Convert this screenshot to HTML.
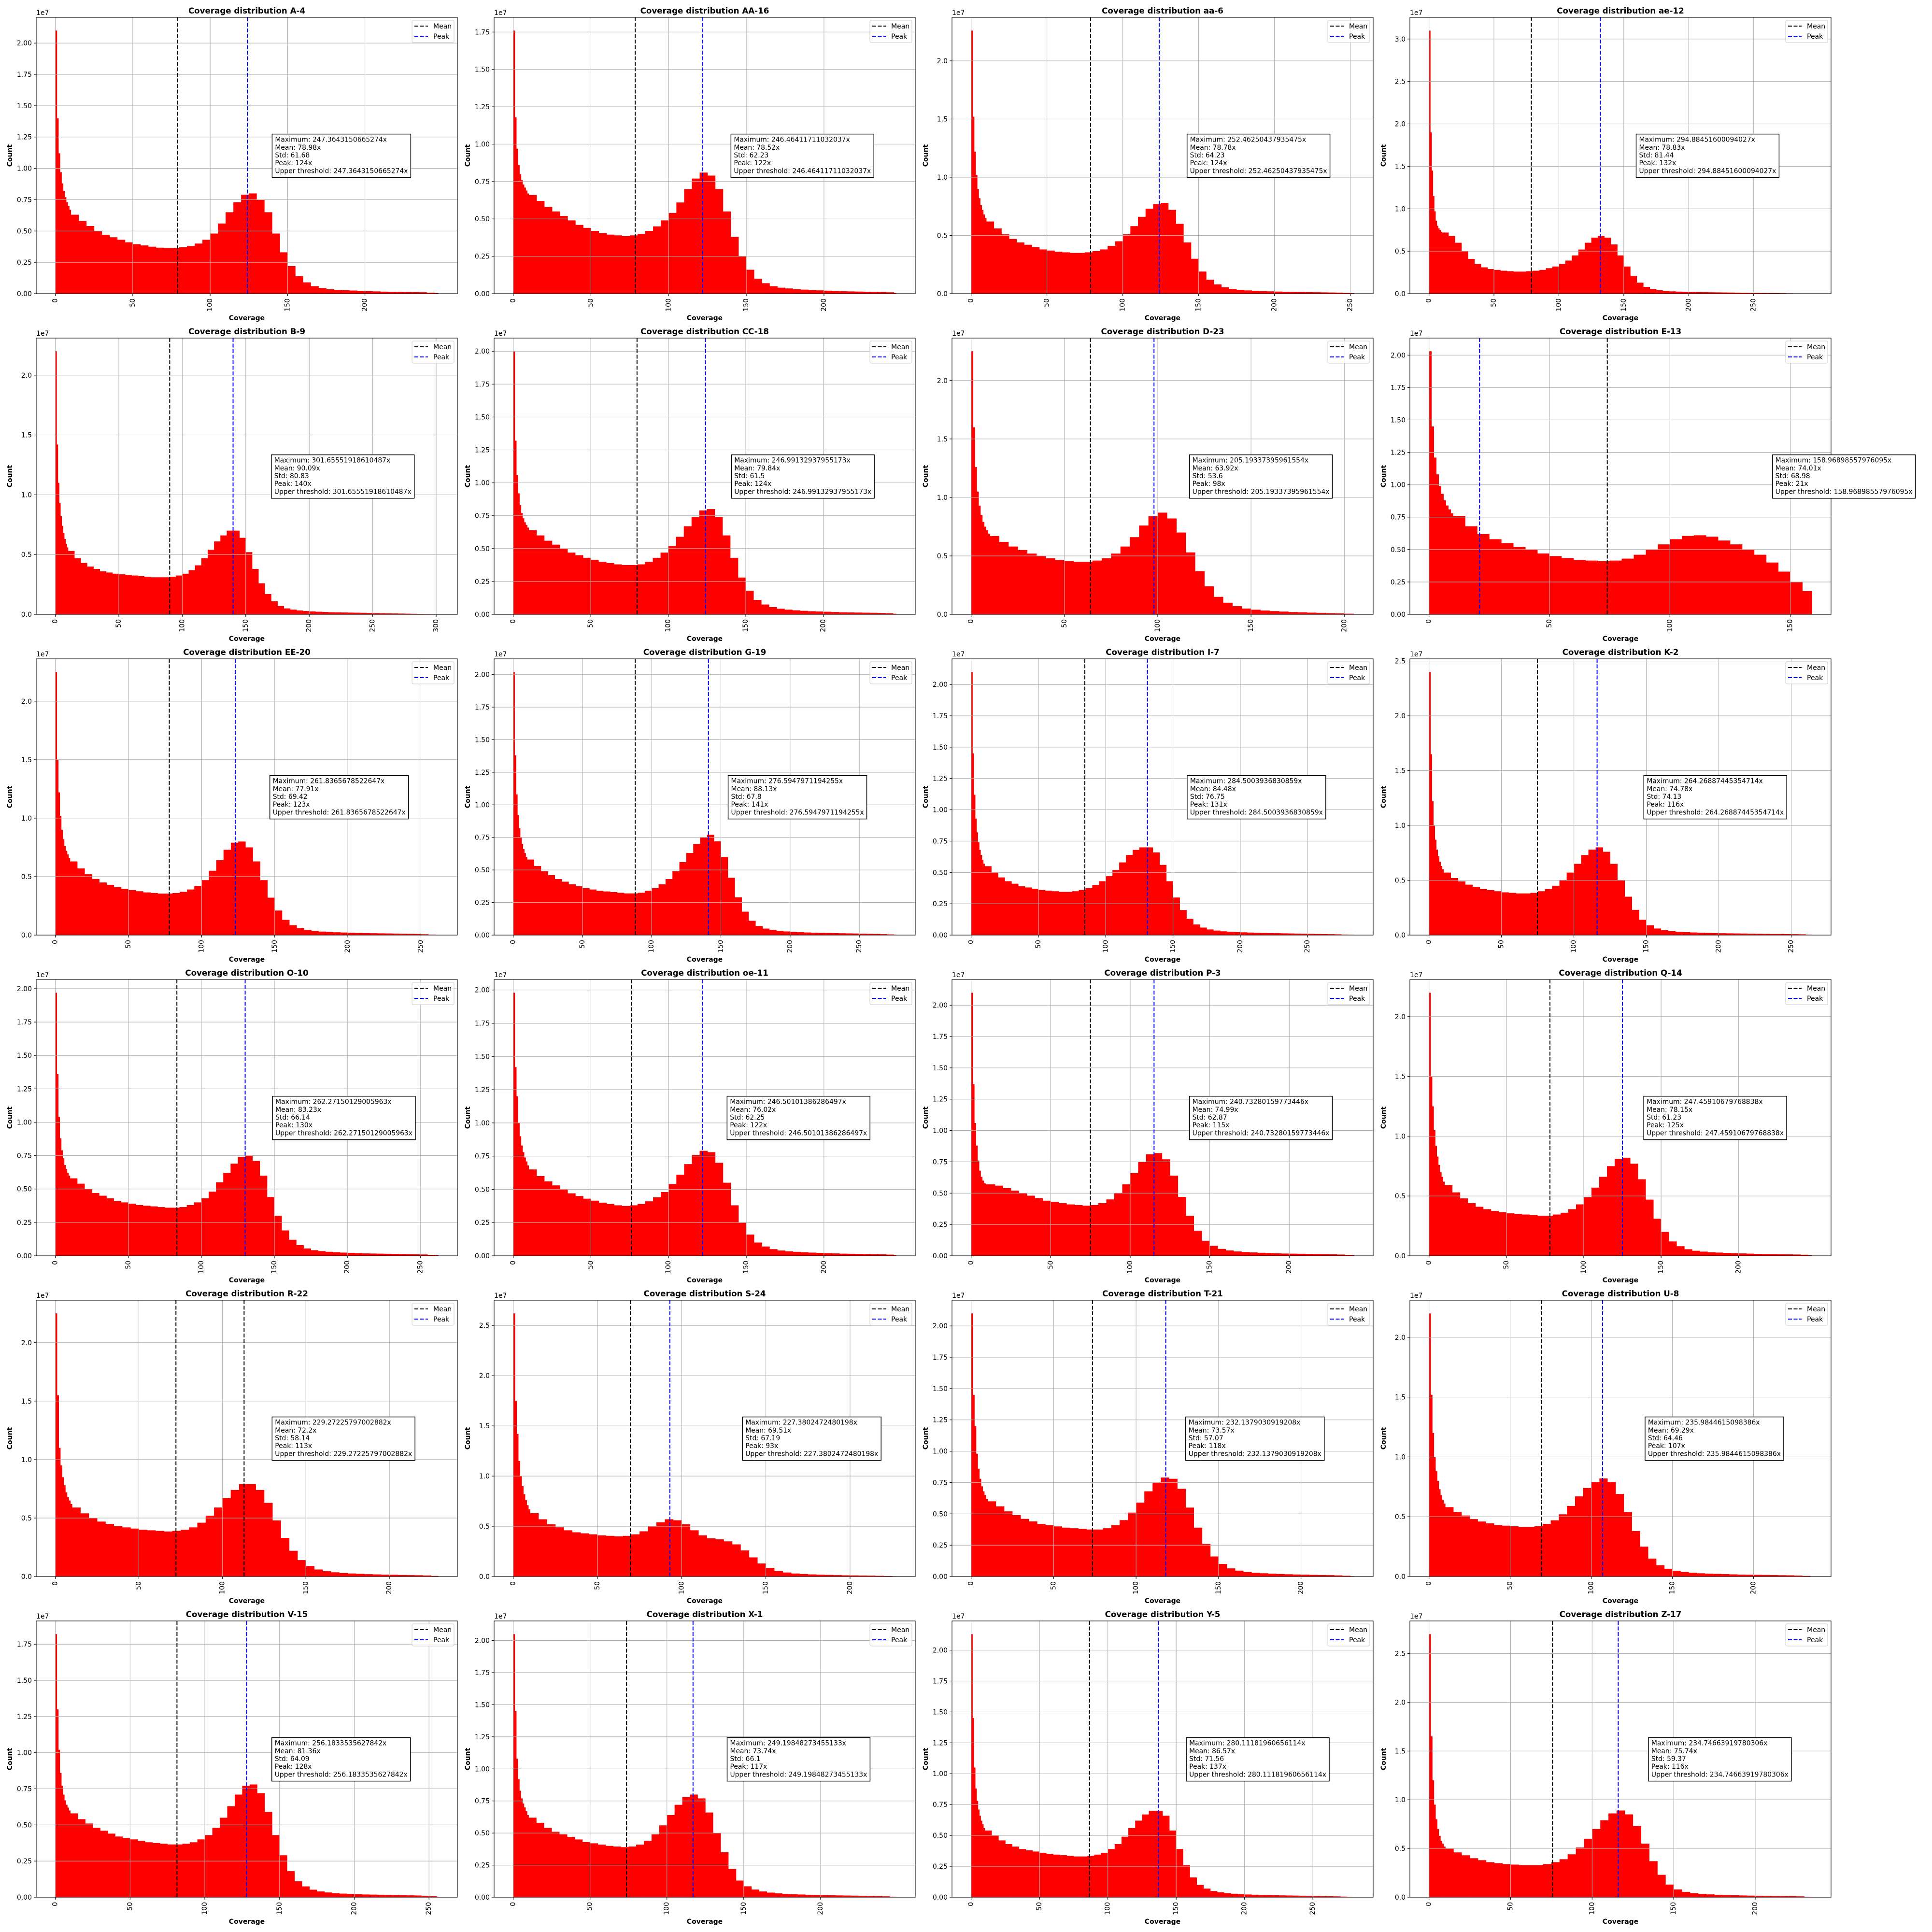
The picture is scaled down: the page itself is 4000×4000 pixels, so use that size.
<!DOCTYPE html>
<html><head><meta charset="utf-8"><title>Coverage distributions</title>
<style>html,body{margin:0;padding:0;background:#fff}svg{display:block}text{font-family:"DejaVu Sans","Liberation Sans",sans-serif}</style>
</head><body>
<svg id="fig" xmlns="http://www.w3.org/2000/svg" width="4000" height="4000" viewBox="0 0 4000 4000">
<rect x="0" y="0" width="4000" height="4000" fill="#fff"/>
</svg>
<script>
const plotNames=["A-4","AA-16","aa-6","ae-12","B-9","CC-18","D-23","E-13","EE-20","G-19","I-7","K-2","O-10","oe-11","P-3","Q-14","R-22","S-24","T-21","U-8","V-15","X-1","Y-5","Z-17"];
const maxLabels=["247.3643150665274","246.46411711032037","252.46250437935475","294.88451600094027","301.65551918610487","246.99132937955173","205.19337395961554","158.96898557976095","261.8365678522647","276.5947971194255","284.5003936830859","264.26887445354714","262.27150129005963","246.50101386286497","240.73280159773446","247.45910679768838","229.27225797002882","227.3802472480198","232.1379030919208","235.9844615098386","256.1833535627842","249.19848273455133","280.11181960656114","234.74663919780306"];
const meanCov=[78.98,78.52,78.78,78.83,90.09,79.84,63.92,74.01,77.91,88.13,84.48,74.78,83.23,76.02,74.99,78.15,72.2,69.51,73.57,69.29,81.36,73.74,86.57,75.74];
const stdCov=[61.68,62.23,64.23,81.44,80.83,61.5,53.6,68.98,69.42,67.8,76.75,74.13,66.14,62.25,62.87,61.23,58.14,67.19,57.07,64.46,64.09,66.1,71.56,59.37];
const peakCov=[124,122,124,132,140,124,98,21,123,141,131,116,130,122,115,125,113,93,118,107,128,117,137,116];
const peakBlack=[0,0,0,0,0,0,0,0,0,0,0,0,0,0,0,0,1,0,0,0,0,0,0,0];
// counts (x1e7) for single-unit bins 0..9
const headCounts=[
[2.1,1.4,1.12,0.97,0.88,0.82,0.77,0.73,0.70,0.67],
[1.76,1.18,0.97,0.86,0.80,0.76,0.73,0.71,0.69,0.67],
[2.26,1.52,1.22,1.02,0.90,0.82,0.76,0.72,0.68,0.65],
[3.1,1.9,1.45,1.15,0.97,0.86,0.80,0.77,0.75,0.73],
[2.2,1.42,1.1,0.93,0.82,0.74,0.68,0.63,0.59,0.56],
[2.0,1.32,1.06,0.92,0.83,0.77,0.73,0.70,0.68,0.66],
[2.25,1.6,1.26,1.05,0.93,0.85,0.79,0.75,0.72,0.69],
[2.03,1.45,1.21,1.08,0.99,0.93,0.88,0.84,0.81,0.78],
[2.25,1.5,1.22,1.02,0.90,0.82,0.76,0.72,0.69,0.66],
[2.02,1.38,1.08,0.92,0.82,0.75,0.70,0.66,0.63,0.60],
[2.1,1.45,1.12,0.93,0.82,0.74,0.68,0.64,0.60,0.57],
[2.4,1.65,1.22,1.0,0.87,0.78,0.72,0.67,0.63,0.60],
[1.97,1.36,1.04,0.88,0.79,0.73,0.68,0.65,0.62,0.60],
[1.98,1.42,1.2,1.0,0.90,0.83,0.78,0.74,0.71,0.68],
[2.1,1.37,1.06,0.88,0.76,0.68,0.63,0.60,0.58,0.57],
[2.2,1.5,1.25,1.05,0.92,0.83,0.76,0.70,0.66,0.62],
[2.25,1.55,1.1,0.95,0.85,0.78,0.72,0.68,0.65,0.62],
[2.62,1.75,1.42,1.15,1.0,0.90,0.82,0.76,0.71,0.67],
[2.1,1.45,1.2,0.98,0.86,0.78,0.72,0.68,0.65,0.62],
[2.2,1.52,1.2,1.0,0.88,0.80,0.73,0.68,0.64,0.61],
[1.82,1.3,1.02,0.86,0.77,0.71,0.67,0.64,0.62,0.60],
[2.05,1.45,1.08,0.92,0.83,0.77,0.73,0.70,0.67,0.64],
[2.13,1.45,1.05,0.88,0.78,0.71,0.66,0.62,0.59,0.56],
[2.7,1.65,1.2,0.95,0.80,0.70,0.63,0.58,0.55,0.52]];
// counts (x1e7) for 5-unit bins starting at coverage 10
const bodyCounts=[
[0.63,0.58,0.54,0.50,0.47,0.45,0.43,0.41,0.395,0.385,0.375,0.367,0.365,0.365,0.37,0.38,0.40,0.43,0.48,0.56,0.65,0.73,0.79,0.80,0.75,0.65,0.48,0.33,0.22,0.14,0.09,0.06,0.045,0.035,0.03,0.027,0.025,0.022,0.02,0.018,0.016,0.015,0.014,0.013,0.012,0.011,0.008,0.005],
[0.66,0.62,0.58,0.55,0.52,0.49,0.46,0.44,0.42,0.405,0.395,0.39,0.385,0.39,0.40,0.42,0.45,0.49,0.54,0.61,0.70,0.77,0.81,0.79,0.70,0.55,0.38,0.25,0.16,0.10,0.07,0.05,0.04,0.035,0.03,0.027,0.024,0.022,0.02,0.018,0.016,0.015,0.014,0.013,0.012,0.011,0.009,0.005],
[0.62,0.56,0.51,0.47,0.44,0.42,0.40,0.38,0.37,0.36,0.355,0.35,0.35,0.355,0.365,0.38,0.41,0.45,0.51,0.58,0.66,0.73,0.77,0.78,0.72,0.60,0.44,0.30,0.19,0.12,0.08,0.055,0.04,0.033,0.028,0.025,0.022,0.02,0.018,0.016,0.015,0.014,0.013,0.012,0.011,0.01,0.009,0.007,0.004],
[0.72,0.68,0.60,0.50,0.41,0.35,0.31,0.29,0.28,0.27,0.265,0.26,0.26,0.265,0.27,0.28,0.30,0.32,0.35,0.39,0.45,0.52,0.60,0.66,0.68,0.66,0.58,0.45,0.32,0.21,0.13,0.08,0.055,0.04,0.032,0.027,0.024,0.022,0.02,0.018,0.017,0.016,0.015,0.014,0.013,0.012,0.011,0.01,0.009,0.008,0.007,0.006,0.005,0.004,0.003,0.002,0.002],
[0.53,0.47,0.43,0.40,0.38,0.36,0.35,0.34,0.335,0.33,0.325,0.32,0.315,0.31,0.31,0.31,0.315,0.325,0.34,0.37,0.41,0.47,0.54,0.61,0.66,0.70,0.70,0.64,0.52,0.38,0.26,0.17,0.11,0.07,0.05,0.04,0.033,0.028,0.025,0.022,0.02,0.018,0.017,0.016,0.015,0.014,0.013,0.012,0.011,0.01,0.009,0.008,0.007,0.006,0.005,0.004,0.003,0.002,0.002],
[0.64,0.60,0.56,0.53,0.50,0.47,0.45,0.43,0.415,0.40,0.39,0.38,0.375,0.375,0.38,0.40,0.43,0.47,0.52,0.59,0.67,0.74,0.79,0.80,0.74,0.60,0.43,0.28,0.18,0.11,0.075,0.055,0.043,0.036,0.031,0.027,0.024,0.022,0.02,0.018,0.016,0.015,0.014,0.013,0.012,0.011,0.009,0.005],
[0.67,0.62,0.58,0.55,0.52,0.50,0.48,0.465,0.455,0.45,0.45,0.46,0.48,0.52,0.58,0.66,0.76,0.84,0.87,0.82,0.70,0.53,0.37,0.24,0.15,0.10,0.07,0.05,0.04,0.033,0.028,0.024,0.02,0.018,0.015,0.013,0.011,0.009,0.006,0.003],
[0.76,0.68,0.62,0.58,0.55,0.52,0.50,0.47,0.45,0.435,0.42,0.415,0.41,0.415,0.43,0.46,0.50,0.54,0.58,0.605,0.61,0.60,0.57,0.54,0.50,0.46,0.40,0.33,0.25,0.18],
[0.63,0.57,0.52,0.48,0.45,0.43,0.41,0.395,0.385,0.375,0.365,0.36,0.355,0.355,0.36,0.37,0.39,0.42,0.47,0.55,0.64,0.73,0.79,0.80,0.75,0.63,0.47,0.32,0.21,0.13,0.085,0.06,0.045,0.036,0.03,0.027,0.024,0.022,0.02,0.018,0.017,0.016,0.015,0.014,0.013,0.012,0.011,0.01,0.007,0.004,0.002],
[0.58,0.53,0.49,0.46,0.43,0.41,0.39,0.375,0.36,0.35,0.34,0.335,0.33,0.325,0.32,0.32,0.325,0.34,0.36,0.39,0.43,0.49,0.56,0.63,0.70,0.75,0.77,0.72,0.60,0.44,0.29,0.18,0.11,0.07,0.05,0.04,0.033,0.028,0.025,0.022,0.02,0.018,0.017,0.016,0.015,0.014,0.013,0.012,0.011,0.01,0.009,0.007,0.005,0.003],
[0.55,0.50,0.46,0.43,0.41,0.39,0.38,0.37,0.36,0.355,0.35,0.345,0.345,0.35,0.36,0.375,0.40,0.43,0.47,0.52,0.58,0.64,0.68,0.70,0.70,0.66,0.56,0.43,0.30,0.20,0.13,0.085,0.06,0.045,0.036,0.03,0.027,0.024,0.022,0.02,0.018,0.017,0.016,0.015,0.014,0.013,0.012,0.011,0.01,0.009,0.008,0.007,0.006,0.004,0.003],
[0.57,0.52,0.49,0.46,0.44,0.42,0.41,0.40,0.39,0.385,0.38,0.38,0.385,0.40,0.42,0.45,0.50,0.57,0.65,0.73,0.78,0.80,0.76,0.65,0.50,0.35,0.23,0.14,0.09,0.06,0.045,0.036,0.03,0.027,0.024,0.022,0.02,0.018,0.017,0.016,0.015,0.014,0.013,0.012,0.011,0.01,0.01,0.009,0.008,0.007,0.004],
[0.58,0.54,0.50,0.47,0.45,0.43,0.41,0.40,0.39,0.38,0.375,0.37,0.365,0.36,0.36,0.365,0.38,0.40,0.43,0.48,0.55,0.62,0.69,0.74,0.75,0.71,0.60,0.44,0.30,0.19,0.12,0.08,0.055,0.042,0.035,0.03,0.027,0.024,0.022,0.02,0.018,0.017,0.016,0.015,0.014,0.013,0.012,0.011,0.01,0.007,0.004],
[0.65,0.60,0.56,0.53,0.50,0.47,0.45,0.43,0.415,0.40,0.39,0.38,0.375,0.38,0.39,0.41,0.44,0.48,0.54,0.61,0.69,0.76,0.79,0.78,0.70,0.55,0.38,0.25,0.16,0.10,0.07,0.05,0.04,0.034,0.03,0.027,0.024,0.022,0.02,0.018,0.016,0.015,0.014,0.013,0.012,0.011,0.009,0.005],
[0.57,0.56,0.54,0.52,0.50,0.48,0.46,0.44,0.43,0.42,0.41,0.405,0.40,0.405,0.42,0.45,0.50,0.57,0.66,0.75,0.81,0.82,0.77,0.64,0.47,0.32,0.20,0.12,0.08,0.055,0.043,0.035,0.03,0.027,0.024,0.022,0.02,0.018,0.017,0.016,0.015,0.014,0.013,0.012,0.01,0.007,0.004],
[0.59,0.53,0.48,0.44,0.41,0.39,0.375,0.365,0.355,0.35,0.345,0.34,0.335,0.335,0.345,0.36,0.39,0.43,0.49,0.57,0.66,0.75,0.81,0.82,0.77,0.64,0.47,0.31,0.20,0.12,0.08,0.055,0.042,0.035,0.03,0.027,0.024,0.022,0.02,0.018,0.016,0.015,0.014,0.013,0.012,0.011,0.009,0.005],
[0.59,0.54,0.50,0.47,0.45,0.43,0.42,0.41,0.40,0.395,0.39,0.385,0.39,0.40,0.42,0.46,0.52,0.59,0.67,0.74,0.79,0.79,0.74,0.63,0.48,0.33,0.22,0.14,0.09,0.06,0.045,0.036,0.03,0.026,0.023,0.02,0.018,0.016,0.015,0.013,0.012,0.011,0.009,0.005],
[0.63,0.57,0.52,0.49,0.46,0.44,0.43,0.42,0.41,0.405,0.40,0.405,0.42,0.45,0.50,0.54,0.57,0.56,0.52,0.46,0.41,0.38,0.37,0.35,0.32,0.26,0.19,0.13,0.085,0.055,0.04,0.03,0.025,0.021,0.018,0.016,0.014,0.012,0.011,0.01,0.009,0.007,0.005,0.003],
[0.60,0.56,0.52,0.49,0.46,0.44,0.42,0.41,0.40,0.39,0.385,0.38,0.375,0.375,0.385,0.41,0.45,0.51,0.59,0.68,0.75,0.79,0.78,0.70,0.55,0.39,0.26,0.16,0.10,0.065,0.047,0.036,0.03,0.026,0.023,0.02,0.018,0.016,0.015,0.013,0.012,0.011,0.009,0.006,0.003],
[0.58,0.54,0.51,0.48,0.46,0.445,0.43,0.425,0.42,0.415,0.415,0.42,0.44,0.47,0.52,0.59,0.67,0.74,0.79,0.82,0.79,0.69,0.54,0.38,0.25,0.15,0.095,0.065,0.048,0.038,0.032,0.027,0.024,0.022,0.02,0.018,0.016,0.015,0.014,0.013,0.012,0.011,0.01,0.008,0.005,0.002],
[0.58,0.54,0.51,0.48,0.46,0.44,0.42,0.41,0.40,0.39,0.38,0.375,0.37,0.365,0.365,0.37,0.38,0.40,0.43,0.48,0.55,0.63,0.71,0.77,0.78,0.72,0.59,0.43,0.29,0.18,0.11,0.075,0.052,0.04,0.033,0.028,0.025,0.023,0.021,0.019,0.018,0.017,0.016,0.015,0.014,0.013,0.012,0.01,0.007,0.004],
[0.62,0.58,0.54,0.51,0.49,0.47,0.45,0.43,0.42,0.41,0.40,0.395,0.39,0.395,0.41,0.44,0.49,0.56,0.64,0.72,0.78,0.80,0.77,0.66,0.50,0.35,0.22,0.13,0.085,0.06,0.045,0.036,0.03,0.026,0.023,0.021,0.019,0.017,0.016,0.015,0.014,0.013,0.012,0.011,0.01,0.009,0.007,0.004],
[0.54,0.50,0.46,0.43,0.41,0.39,0.38,0.37,0.36,0.35,0.345,0.34,0.335,0.33,0.33,0.335,0.345,0.36,0.39,0.43,0.49,0.56,0.62,0.67,0.70,0.70,0.66,0.54,0.39,0.26,0.16,0.10,0.07,0.05,0.04,0.033,0.028,0.025,0.022,0.02,0.018,0.017,0.016,0.015,0.014,0.013,0.012,0.011,0.01,0.009,0.008,0.007,0.005,0.003,0.002],
[0.50,0.46,0.43,0.40,0.38,0.36,0.35,0.34,0.335,0.33,0.33,0.33,0.34,0.36,0.39,0.44,0.51,0.60,0.70,0.79,0.86,0.89,0.85,0.73,0.55,0.37,0.23,0.13,0.08,0.055,0.042,0.034,0.029,0.025,0.022,0.02,0.018,0.016,0.015,0.014,0.013,0.012,0.011,0.009,0.005]];

const NS="http://www.w3.org/2000/svg";
const svg=document.getElementById('fig');
function mk(tag,attrs,parent){const e=document.createElementNS(NS,tag);for(const k in attrs)e.setAttribute(k,attrs[k]);(parent||svg).appendChild(e);return e;}
const W=872,H=572;
plotNames.forEach((name,i)=>{
  const col=i%4,row=Math.floor(i/4);
  const L=75+948*col,T=36+664*row;
  const maxC=parseFloat(maxLabels[i]);
  const head=headCounts[i],body=bodyCounts[i];
  const cmax=Math.max(...head,...body);
  const top=cmax*1.05;
  const xmin=-0.05*maxC,xmax=1.05*maxC;
  const X=c=>L+(c-xmin)/(xmax-xmin)*W;
  const Y=v=>T+H-v/top*H;
  const g=mk('g',{});
  
  
  const bars=mk('g',{fill:'#ff0000'},g);
  
  
  const addBar=(a,b,v)=>{const x0=X(a),x1=X(b);const r=mk('rect',{x:x0.toFixed(2),y:Y(v).toFixed(2),width:(x1-x0+0.4).toFixed(2),height:(Y(0)-Y(v)).toFixed(2)},bars);
    
    };
  head.forEach((v,k)=>addBar(k,k+1,v));
  body.forEach((v,k)=>{const a=10+5*k;const b=Math.min(a+5,maxC);if(b>a)addBar(a,b,v);});
  const grid=mk('g',{stroke:'#b0b0b0','stroke-width':1.1},g);
  
  
  const step=top>2.25?0.5:0.25;
  const dec=step===0.5?1:2;
  const ax=mk('g',{},g);
  
  
  for(let v=0;v<=top+1e-9;v+=step){const y=Y(v);
    mk('line',{x1:L,x2:L+W,y1:y,y2:y},grid);
    mk('line',{x1:L-5,x2:L,y1:y,y2:y,stroke:'#000','stroke-width':1.1},ax);
    const t=mk('text',{x:L-9,y:y+5,'text-anchor':'end','font-size':14},ax);t.textContent=v.toFixed(dec);
    
    }
  for(let c=0;c<=maxC;c+=50){const x=X(c);
    mk('line',{x1:x,x2:x,y1:T,y2:T+H},grid);
    mk('line',{x1:x,x2:x,y1:T+H,y2:T+H+5,stroke:'#000','stroke-width':1.1},ax);
    const t=mk('text',{x:0,y:0,'text-anchor':'end','font-size':14,'dominant-baseline':'central',transform:`translate(${x},${T+H+10}) rotate(-90)`},ax);t.textContent=String(c);
    
    }
  const ml=mk('line',{x1:X(meanCov[i]),x2:X(meanCov[i]),y1:T,y2:T+H,stroke:'#000','stroke-width':2,'stroke-dasharray':'8,3.5'},g);
  
  
  const pc=peakBlack[i]?'#000':'#0000ff';
  const pl=mk('line',{x1:X(peakCov[i]),x2:X(peakCov[i]),y1:T,y2:T+H,stroke:pc,'stroke-width':2,'stroke-dasharray':'8,3.5'},g);
  
  
  const fr=mk('rect',{x:L,y:T,width:W,height:H,fill:'none',stroke:'#000','stroke-width':1.1},g);
  
  
  const ti=mk('text',{x:L+W/2,y:T-8,'text-anchor':'middle','font-size':16.7,'font-weight':'bold'},g);ti.textContent='Coverage distribution '+name;
  
  
  const of=mk('text',{x:L,y:T-5,'font-size':14},g);of.textContent='1e7';
  
  
  const xl=mk('text',{x:L+W/2,y:T+H+55,'text-anchor':'middle','font-size':14,'font-weight':'bold'},g);xl.textContent='Coverage';
  
  
  const yl=mk('text',{x:0,y:0,'text-anchor':'middle','font-size':14,'font-weight':'bold','dominant-baseline':'central',transform:`translate(${L-54},${T+H/2}) rotate(-90)`},g);yl.textContent='Count';
  
  
  const lg=mk('g',{},g);
  
  
  mk('rect',{x:L+W-94,y:T+6,width:87,height:46,rx:3,fill:'#fff','fill-opacity':0.8,stroke:'#cccccc','stroke-width':1.1},lg);
  [['Mean','#000'],['Peak','#0000ff']].forEach((e,k)=>{const yy=T+18+21*k;
    mk('line',{x1:L+W-89,x2:L+W-61,y1:yy,y2:yy,stroke:e[1],'stroke-width':2,'stroke-dasharray':'8,3.5'},lg);
    const t=mk('text',{x:L+W-50,y:yy+5,'font-size':14},lg);t.textContent=e[0];
    
    });
  const bx=mk('g',{},g);
  
  
  const x0=X(meanCov[i]+stdCov[i])-2;
  const cy=Y(0.5*cmax)-13;
  const bt=cy-45;
  const rect=mk('rect',{x:x0,y:bt,width:280,height:90,fill:'#fff',stroke:'#000','stroke-width':1.5},bx);
  const lines=['Maximum: '+maxLabels[i]+'x','Mean: '+meanCov[i]+'x','Std: '+stdCov[i],'Peak: '+peakCov[i]+'x','Upper threshold: '+maxLabels[i]+'x'];
  let wmax=0;
  lines.forEach((s,k)=>{const t=mk('text',{x:x0+6,y:bt+16+16.2*k,'font-size':13.9},bx);t.textContent=s;
    
    
    try{wmax=Math.max(wmax,t.getComputedTextLength());}catch(e){}});
  if(wmax>0)rect.setAttribute('width',(wmax+12).toFixed(1));
});
</script>
</body></html>
